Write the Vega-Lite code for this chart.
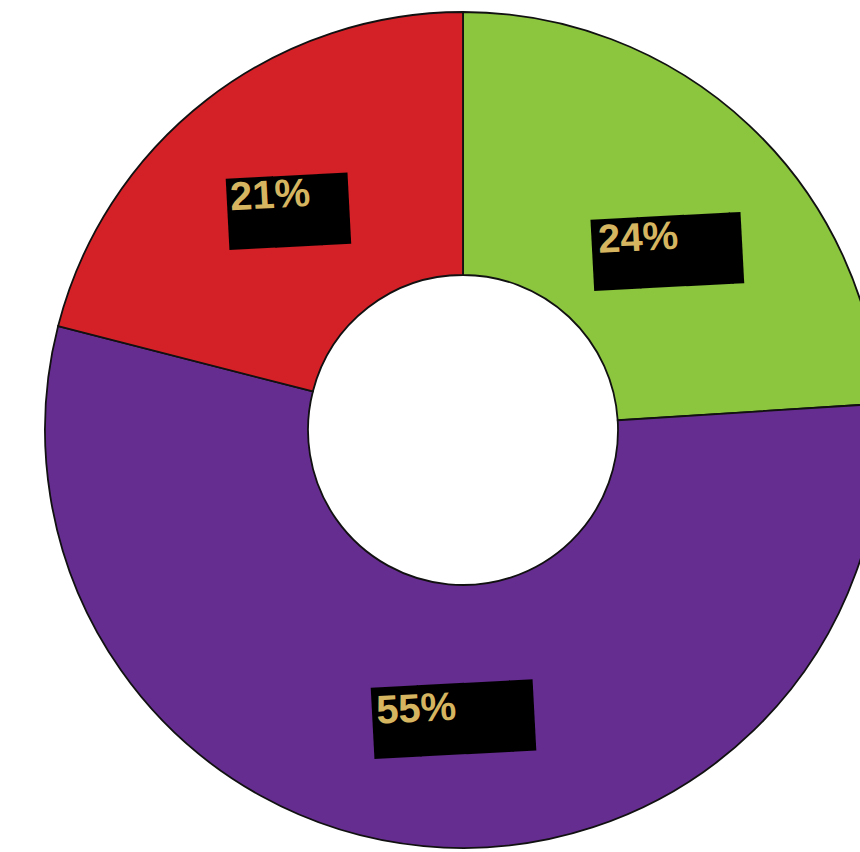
{
  "$schema": "https://vega.github.io/schema/vega-lite/v6.json",
  "width": 926,
  "height": 860,
  "autosize": {"type": "none"},
  "padding": 0,
  "background": "white",
  "view": {"stroke": null},
  "data": {"values": [
    {"seg": "Green", "value": 24, "o": 1, "label": "24%", "box": "███▎", "bt": 10.17, "br": 218, "tt": 9.79, "tr": 234},
    {"seg": "Purple", "value": 55, "o": 2, "label": "55%", "box": "███▌", "bt": 54.74, "br": 306.5, "tt": 54.79, "tr": 293},
    {"seg": "Red", "value": 21, "o": 3, "label": "21%", "box": "██▋", "bt": 86.83, "br": 319, "tt": 87.53, "tr": 330}
  ]},
  "layer": [
    {
      "mark": {"type": "arc", "outerRadius": 418, "innerRadius": 155, "stroke": "#111111", "strokeWidth": 1.8},
      "encoding": {
        "theta": {"field": "value", "type": "quantitative", "stack": true, "scale": {"domain": [0, 100]}},
        "color": {"field": "seg", "type": "nominal", "scale": {"domain": ["Green", "Purple", "Red"], "range": ["#8cc63f", "#662d91", "#d42127"]}, "legend": null},
        "order": {"field": "o", "type": "quantitative"}
      }
    },
    {
      "mark": {"type": "text", "font": "DejaVu Sans", "fontSize": 60, "align": "left", "baseline": "middle", "angle": -3, "dy": 3, "color": "#000000"},
      "encoding": {
        "theta": {"field": "bt", "type": "quantitative", "stack": null, "scale": {"domain": [0, 100]}},
        "radius": {"field": "br", "type": "quantitative", "scale": {"type": "linear", "domain": [0, 430], "range": [0, 430], "zero": true}},
        "text": {"field": "box"}
      }
    },
    {
      "mark": {"type": "text", "font": "Liberation Sans", "fontWeight": "bold", "fontSize": 40, "align": "left", "baseline": "middle", "angle": -3, "dy": 2, "color": "#d6b560"},
      "encoding": {
        "theta": {"field": "tt", "type": "quantitative", "stack": null, "scale": {"domain": [0, 100]}},
        "radius": {"field": "tr", "type": "quantitative", "scale": {"type": "linear", "domain": [0, 430], "range": [0, 430], "zero": true}},
        "text": {"field": "label"}
      }
    }
  ]
}
